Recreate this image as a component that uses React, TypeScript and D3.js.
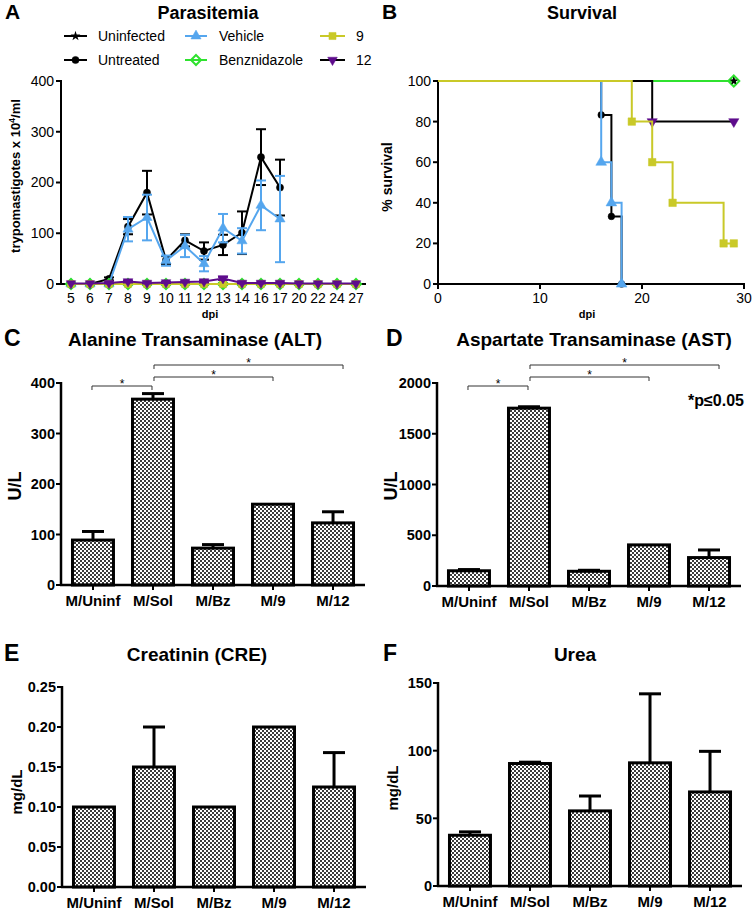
import React from 'react';
import * as d3 from 'd3';

const FONT = '"Liberation Sans", Arial, Helvetica, sans-serif';

const C_BLACK = '#000000';
const C_BLUE = '#55a6ee';
const C_GREEN = '#2fe22f';
const C_YELLOW = '#c9c928';
const C_PURPLE = '#5e0c8c';

// ---------- Panel A: Parasitemia ----------
const dpiLabels = ['5', '6', '7', '8', '9', '10', '11', '12', '13', '14', '16', '17', '20', '22', '24', '27'];
const paraTicks = [0, 100, 200, 300, 400];
const uninfectedPar = [0, 0, 0, 0, 0, 0, 0, 0, 0, 0, 0, 0, 0, 0, 0, 0];
const untreatedPar = [0, 0, 10, 113, 180, 47, 86, 65, 77, 101, 250, 190];
const untreatedParErr = [0, 0, 3, 15, 43, 8, 12, 17, 20, 42, 55, 55];
const vehiclePar = [0, 0, 0, 108, 131, 46, 75, 40, 110, 85, 155, 128];
const vehicleParErr = [0, 0, 0, 24, 45, 10, 22, 15, 28, 25, 49, 85];
const benzPar = [0, 0, 0, 0, 0, 0, 0, 0, 0, 0, 0, 0, 0, 0, 0, 0];
const ninePar = [0, 0, 0, 0, 0, 0, 0, 0, 0, 0, 0, 0, 0, 0, 0, 0];
const twelvePar = [1, 1, 2, 5, 2, 3, 4, 5, 11, 2, 2, 2, 1, 1, 1, 1];
const twelveParErr = [0, 0, 1, 2, 1, 1, 1, 2, 3, 1, 1, 1, 0, 0, 0, 0];

// ---------- Panel B: Survival ----------
const survTicksX = [0, 10, 20, 30];
const survTicksY = [0, 20, 40, 60, 80, 100];
const uninfSurvT = [0, 29];
const uninfSurvV = [100, 100];
const benzSurvT = [0, 29];
const benzSurvV = [100, 100];
const twelveSurvT = [0, 21, 29];
const twelveSurvV = [100, 80, 80];
const untreatedSurvT = [0, 16, 17, 18];
const untreatedSurvV = [100, 83.3, 33.3, 0];
const vehicleSurvT = [0, 16, 17, 18];
const vehicleSurvV = [100, 60, 40, 0];
const nineSurvT = [0, 19, 21, 23, 28, 29];
const nineSurvV = [100, 80, 60, 40, 20, 20];

// ---------- Panels C-F ----------
const groups = ['M/Uninf', 'M/Sol', 'M/Bz', 'M/9', 'M/12'];
const altMean = [89, 368, 73, 160, 123];
const altErr = [17, 11, 7, 0, 22];
const altTicks = [0, 100, 200, 300, 400];
const astMean = [150, 1752, 145, 405, 280];
const astErr = [12, 14, 10, 0, 75];
const astTicks = [0, 500, 1000, 1500, 2000];
const creMean = [0.1, 0.15, 0.1, 0.2, 0.125];
const creErr = [0, 0.05, 0, 0, 0.043];
const creTicks = [0, 0.05, 0.1, 0.15, 0.2, 0.25];
const ureaMean = [37.5, 90.5, 55.5, 91, 69.5];
const ureaErr = [2.5, 1, 11, 51, 30];
const ureaTicks = [0, 50, 100, 150];
const sigPairs: [number, number][] = [[0, 1], [1, 3], [1, 4]];

type MType = 'circle' | 'triUp' | 'triDown' | 'square' | 'diamond' | 'star';

function markerPath(t: MType, s: number): string {
  if (t === 'diamond') return `M0,${-s}L${s},0L0,${s}L${-s},0Z`;
  const map: Record<string, any> = {
    circle: d3.symbolCircle,
    triUp: d3.symbolTriangle,
    triDown: d3.symbolTriangle,
    square: d3.symbolSquare,
    star: d3.symbolStar,
  };
  return d3.symbol().type(map[t]).size(s)() as string;
}

function Marker({ t, x, y, color, s }: { t: MType; x: number; y: number; color: string; s: number }) {
  const d = markerPath(t, s);
  const rot = t === 'triDown' ? ' rotate(180)' : '';
  if (t === 'diamond') {
    return <path d={d} transform={`translate(${x},${y})`} fill="none" stroke={color} strokeWidth={2} />;
  }
  return <path d={d} transform={`translate(${x},${y})${rot}`} fill={color} stroke={t === 'star' ? 'none' : color} strokeWidth={0.5} />;
}

function PanelA() {
  const x = d3.scalePoint<string>().domain(dpiLabels).range([71, 356]);
  const y = d3.scaleLinear().domain([0, 400]).range([284, 81]);
  const series = [
    { v: uninfectedPar, e: null as number[] | null, line: C_BLACK, mk: C_BLACK, t: 'star' as MType, s: 30 },
    { v: untreatedPar, e: untreatedParErr, line: C_BLACK, mk: C_BLACK, t: 'circle' as MType, s: 40 },
    { v: vehiclePar, e: vehicleParErr, line: C_BLUE, mk: C_BLUE, t: 'triUp' as MType, s: 45 },
    { v: benzPar, e: null, line: C_GREEN, mk: C_GREEN, t: 'diamond' as MType, s: 5 },
    { v: ninePar, e: null, line: C_YELLOW, mk: C_YELLOW, t: 'square' as MType, s: 50 },
    { v: twelvePar, e: twelveParErr, line: C_PURPLE, mk: C_PURPLE, t: 'triDown' as MType, s: 40 },
  ];
  const line = d3.line<number>().x((_, i) => x(dpiLabels[i]) as number).y((d) => y(d));
  const legend = [
    { label: 'Uninfected', line: C_BLACK, mk: C_BLACK, t: 'star' as MType, s: 30, col: 0, row: 0 },
    { label: 'Untreated', line: C_BLACK, mk: C_BLACK, t: 'circle' as MType, s: 40, col: 0, row: 1 },
    { label: 'Vehicle', line: C_BLUE, mk: C_BLUE, t: 'triUp' as MType, s: 45, col: 1, row: 0 },
    { label: 'Benznidazole', line: C_GREEN, mk: C_GREEN, t: 'diamond' as MType, s: 5, col: 1, row: 1 },
    { label: '9', line: C_YELLOW, mk: C_YELLOW, t: 'square' as MType, s: 50, col: 2, row: 0 },
    { label: '12', line: C_BLACK, mk: C_PURPLE, t: 'triDown' as MType, s: 40, col: 2, row: 1 },
  ];
  const colX = [[64, 87, 98], [185, 207, 219], [320, 345, 356]];
  const rowY = [36, 60];
  return (
    <g>
      <text x={5} y={19} fontSize={21} fontWeight="bold">A</text>
      <text x={208} y={19} fontSize={18} fontWeight="bold" textAnchor="middle">Parasitemia</text>
      {legend.map((l, i) => {
        const [x0, x1, tx] = colX[l.col];
        const yy = rowY[l.row];
        return (
          <g key={i}>
            <line x1={x0} x2={x1} y1={yy} y2={yy} stroke={l.line} strokeWidth={2} />
            <Marker t={l.t} x={(x0 + x1) / 2} y={yy} color={l.mk} s={l.s} />
            <text x={tx} y={yy + 5} fontSize={14}>{l.label}</text>
          </g>
        );
      })}
      <line x1={61} x2={61} y1={80} y2={285} stroke="#000" strokeWidth={2} />
      <line x1={60} x2={366} y1={284} y2={284} stroke="#000" strokeWidth={2} />
      {paraTicks.map((t) => (
        <g key={t}>
          <line x1={56} x2={61} y1={y(t)} y2={y(t)} stroke="#000" strokeWidth={2} />
          <text x={54} y={y(t)} dy="0.35em" fontSize={14} textAnchor="end">{t}</text>
        </g>
      ))}
      {dpiLabels.map((d) => (
        <g key={d}>
          <line x1={x(d)} x2={x(d)} y1={284} y2={289} stroke="#000" strokeWidth={2} />
          <text x={x(d)} y={303} fontSize={14} textAnchor="middle">{d}</text>
        </g>
      ))}
      <text x={210} y={318} fontSize={11} fontWeight="bold" textAnchor="middle">dpi</text>
      <text transform="translate(20,176) rotate(-90)" fontSize={13} fontWeight="bold" textAnchor="middle">
        trypomastigotes x 10<tspan fontSize={9} dy={-5}>4</tspan><tspan dy={5}>/ml</tspan>
      </text>
      {series.map((s, si) => (
        <g key={si}>
          {s.e && s.v.map((v, i) => {
            const e = (s.e as number[])[i];
            if (!e) return null;
            const cx = x(dpiLabels[i]) as number;
            return (
              <g key={i} stroke={s.line} strokeWidth={2}>
                <line x1={cx} x2={cx} y1={y(v - e)} y2={y(v + e)} />
                <line x1={cx - 5} x2={cx + 5} y1={y(v + e)} y2={y(v + e)} />
                <line x1={cx - 5} x2={cx + 5} y1={y(v - e)} y2={y(v - e)} />
              </g>
            );
          })}
          <path d={line(s.v) as string} fill="none" stroke={s.line} strokeWidth={2} />
          {s.v.map((v, i) => (
            <Marker key={i} t={s.t} x={x(dpiLabels[i]) as number} y={y(v)} color={s.mk} s={s.s} />
          ))}
        </g>
      ))}
    </g>
  );
}

function PanelB() {
  const x = d3.scaleLinear().domain([0, 30]).range([438, 744]);
  const y = d3.scaleLinear().domain([0, 100]).range([284, 81]);
  const series = [
    { t: uninfSurvT, v: uninfSurvV, line: C_BLACK, mk: C_BLACK, m: 'star' as MType, s: 30 },
    { t: benzSurvT, v: benzSurvV, line: C_GREEN, mk: C_GREEN, m: 'diamond' as MType, s: 5.5 },
    { t: twelveSurvT, v: twelveSurvV, line: C_BLACK, mk: C_PURPLE, m: 'triDown' as MType, s: 45 },
    { t: untreatedSurvT, v: untreatedSurvV, line: C_BLACK, mk: C_BLACK, m: 'circle' as MType, s: 35 },
    { t: vehicleSurvT, v: vehicleSurvV, line: C_BLUE, mk: C_BLUE, m: 'triUp' as MType, s: 50 },
    { t: nineSurvT, v: nineSurvV, line: C_YELLOW, mk: C_YELLOW, m: 'square' as MType, s: 56 },
  ];
  return (
    <g>
      <text x={382} y={19} fontSize={21} fontWeight="bold">B</text>
      <text x={582} y={19} fontSize={18} fontWeight="bold" textAnchor="middle">Survival</text>
      <line x1={438} x2={438} y1={80} y2={285} stroke="#000" strokeWidth={2} />
      <line x1={437} x2={745} y1={284} y2={284} stroke="#000" strokeWidth={2} />
      {survTicksY.map((t) => (
        <g key={t}>
          <line x1={433} x2={438} y1={y(t)} y2={y(t)} stroke="#000" strokeWidth={2} />
          <text x={431} y={y(t)} dy="0.35em" fontSize={14} textAnchor="end">{t}</text>
        </g>
      ))}
      {survTicksX.map((t) => (
        <g key={t}>
          <line x1={x(t)} x2={x(t)} y1={284} y2={289} stroke="#000" strokeWidth={2} />
          <text x={x(t)} y={303} fontSize={14} textAnchor="middle">{t}</text>
        </g>
      ))}
      <text x={587} y={318} fontSize={11} fontWeight="bold" textAnchor="middle">dpi</text>
      <text transform="translate(392,177) rotate(-90)" fontSize={14} fontWeight="bold" textAnchor="middle">% survival</text>
      {series.map((s, si) => {
        const pts = s.t.map((tt, i) => [x(tt), y(s.v[i])] as [number, number]);
        const path = d3.line().curve(d3.curveStepAfter)(pts) as string;
        return (
          <g key={si}>
            <path d={path} fill="none" stroke={s.line} strokeWidth={2} />
            {pts.slice(1).map((p, i) => (
              <Marker key={i} t={s.m} x={p[0]} y={p[1]} color={s.mk} s={s.s} />
            ))}
          </g>
        );
      })}
      <Marker t="star" x={x(29)} y={y(100)} color={C_BLACK} s={22} />
    </g>
  );
}

type BarProps = {
  letter: string;
  letterX: number;
  title: string;
  titleX: number;
  titleY: number;
  axisX: number;
  yTop: number;
  yBottom: number;
  max: number;
  ticks: number[];
  fmt: (v: number) => string;
  values: number[];
  errs: number[];
  ylabel: string;
  ylabelSize: number;
  ylabelY: number;
  sig?: boolean;
  note?: string;
};

function BarPanel(p: BarProps) {
  const x = d3.scaleBand<string>().domain(groups).range([p.axisX + 2, p.axisX + 302]).paddingInner(0.317).paddingOuter(0.158);
  const y = d3.scaleLinear().domain([0, p.max]).range([p.yBottom, p.yTop]);
  const bw = x.bandwidth();
  const cx = (i: number) => (x(groups[i]) as number) + bw / 2;
  const sigY = [p.yTop + 3, p.yTop - 6, p.yTop - 18];
  return (
    <g>
      <text x={p.letterX} y={p.titleY} fontSize={23} fontWeight="bold">{p.letter}</text>
      <text x={p.titleX} y={p.titleY} fontSize={19} fontWeight="bold" textAnchor="middle">{p.title}</text>
      {p.values.map((v, i) => (
        <g key={i}>
          {p.errs[i] > 0 && (
            <g stroke="#000" strokeWidth={3}>
              <line x1={cx(i)} x2={cx(i)} y1={y(v)} y2={y(v + p.errs[i])} />
              <line x1={cx(i) - 11} x2={cx(i) + 11} y1={y(v + p.errs[i])} y2={y(v + p.errs[i])} />
            </g>
          )}
          <rect x={x(groups[i]) as number} y={y(v)} width={bw} height={p.yBottom - y(v)} fill="url(#checker)" stroke="#000" strokeWidth={3} />
        </g>
      ))}
      <line x1={p.axisX} x2={p.axisX} y1={p.yTop - 1} y2={p.yBottom + 1} stroke="#000" strokeWidth={2.5} />
      <line x1={p.axisX - 1} x2={p.axisX + 304} y1={p.yBottom} y2={p.yBottom} stroke="#000" strokeWidth={2.5} />
      {p.ticks.map((t) => (
        <g key={t}>
          <line x1={p.axisX - 5} x2={p.axisX} y1={y(t)} y2={y(t)} stroke="#000" strokeWidth={2} />
          <text x={p.axisX - 6} y={y(t)} dy="0.36em" fontSize={14.5} fontWeight="bold" textAnchor="end">{p.fmt(t)}</text>
        </g>
      ))}
      {groups.map((g, i) => (
        <g key={g}>
          <line x1={cx(i)} x2={cx(i)} y1={p.yBottom} y2={p.yBottom + 5} stroke="#000" strokeWidth={2} />
          <text x={cx(i)} y={p.yBottom + 21} fontSize={15} fontWeight="bold" textAnchor="middle">{g}</text>
        </g>
      ))}
      <text transform={`translate(${p.axisX - 40},${p.ylabelY}) rotate(-90)`} fontSize={p.ylabelSize} fontWeight="bold" textAnchor="middle">{p.ylabel}</text>
      {p.sig && sigPairs.map(([a, b], k) => {
        const x1 = cx(a) + (k === 0 ? -1 : 1);
        const x2 = cx(b) + (k === 2 ? 10 : 0) + (k === 0 ? -1 : 0);
        const yy = sigY[k];
        return (
          <g key={k}>
            <path d={`M${x1},${yy + 4}V${yy}H${x2}V${yy + 4}`} fill="none" stroke="#333" strokeWidth={1} />
            <text x={(x1 + x2) / 2} y={yy + 2} fontSize={12} textAnchor="middle">*</text>
          </g>
        );
      })}
      {p.note && (
        <text x={p.axisX + 307} y={p.yTop + 23} fontSize={16} fontWeight="bold" textAnchor="end">{p.note}</text>
      )}
    </g>
  );
}

export default function App() {
  const f0 = (v: number) => d3.format('d')(v);
  const f2 = (v: number) => d3.format('.2f')(v);
  return (
    <svg width={754} height={910} style={{ position: 'absolute', left: 0, top: 0, background: '#fff' }} fontFamily={FONT}>
      <defs>
        <pattern id="checker" width={4} height={4} patternUnits="userSpaceOnUse">
          <rect width={4} height={4} fill="#ffffff" />
          <rect width={2} height={2} fill="#3c3c3c" />
          <rect x={2} y={2} width={2} height={2} fill="#3c3c3c" />
        </pattern>
      </defs>
      <rect width={754} height={910} fill="#fff" />
      <PanelA />
      <PanelB />
      <BarPanel letter="C" letterX={4} title="Alanine Transaminase (ALT)" titleX={195} titleY={346} axisX={61} yTop={383} yBottom={585}
        max={400} ticks={altTicks} fmt={f0} values={altMean} errs={altErr} ylabel="U/L" ylabelSize={18} ylabelY={486} sig />
      <BarPanel letter="D" letterX={386} title="Aspartate Transaminase (AST)" titleX={594} titleY={346} axisX={437} yTop={383} yBottom={586}
        max={2000} ticks={astTicks} fmt={f0} values={astMean} errs={astErr} ylabel="U/L" ylabelSize={18} ylabelY={486} sig note="*p≤0.05" />
      <BarPanel letter="E" letterX={4} title="Creatinin (CRE)" titleX={197} titleY={661} axisX={62} yTop={687} yBottom={887}
        max={0.25} ticks={creTicks} fmt={f2} values={creMean} errs={creErr} ylabel="mg/dL" ylabelSize={15} ylabelY={792} />
      <BarPanel letter="F" letterX={383} title="Urea" titleX={575} titleY={661} axisX={438} yTop={683} yBottom={886}
        max={150} ticks={ureaTicks} fmt={f0} values={ureaMean} errs={ureaErr} ylabel="mg/dL" ylabelSize={15} ylabelY={788} />
    </svg>
  );
}
